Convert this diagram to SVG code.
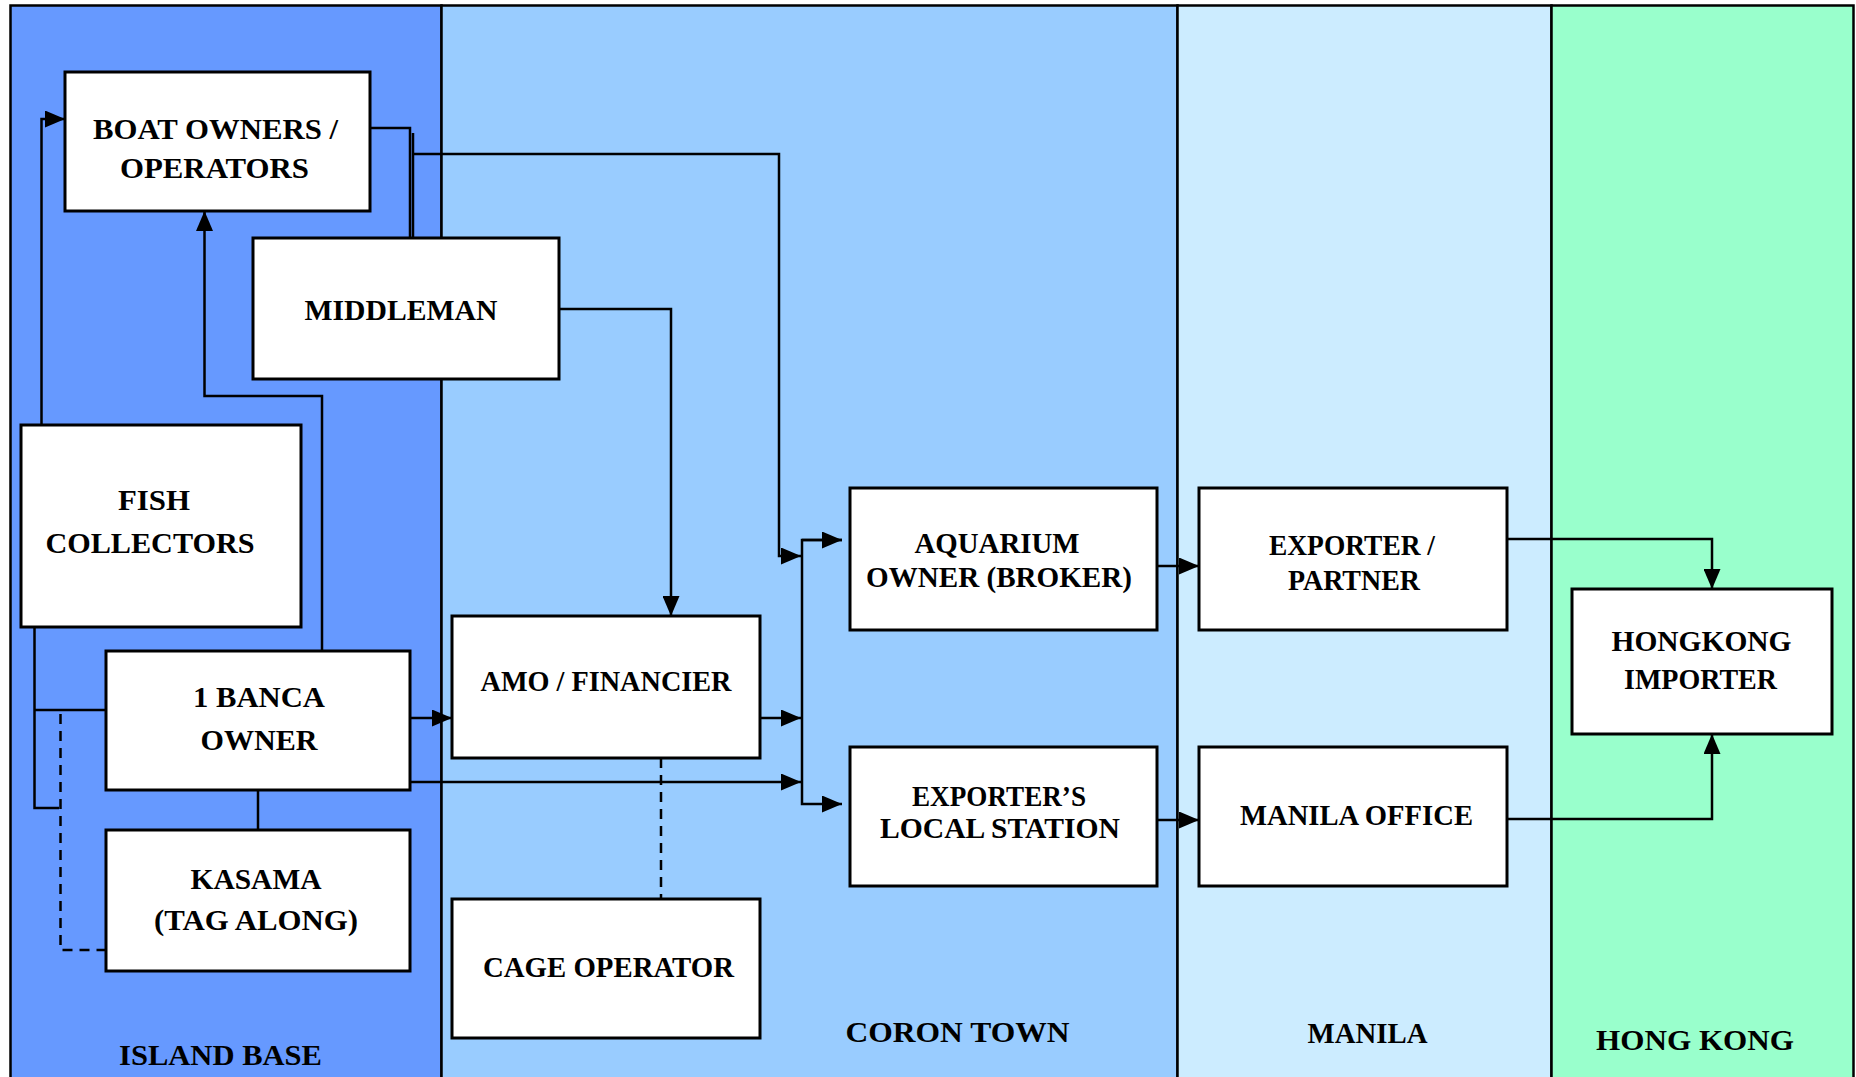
<svg xmlns="http://www.w3.org/2000/svg" width="1856" height="1077" viewBox="0 0 1856 1077">
<style>
.col{stroke:#000;stroke-width:2.5}
.box{fill:#fff;stroke:#000;stroke-width:3}
.t{font-family:"Liberation Serif","Times New Roman",serif;font-weight:bold;font-size:30px;fill:#000;text-anchor:middle}
.c{fill:none;stroke:#000;stroke-width:2.5}
.d{fill:none;stroke:#000;stroke-width:2.5;stroke-dasharray:10 7}
</style>
<defs>
<marker id="ah" markerUnits="userSpaceOnUse" markerWidth="20" markerHeight="17" refX="20" refY="8.5" orient="auto" viewBox="0 0 20 17">
<path d="M0,0 L20,8.5 L0,17 z" fill="#000"/>
</marker>
</defs>
<rect width="1856" height="1077" fill="#fff"/>
<g id="columns">
<rect class="col" x="10.5" y="5.5" width="431" height="1080" fill="#6699FF"/>
<rect class="col" x="441.5" y="5.5" width="736" height="1080" fill="#99CCFF"/>
<rect class="col" x="1177.5" y="5.5" width="374" height="1080" fill="#CCECFF"/>
<rect class="col" x="1551.5" y="5.5" width="302" height="1080" fill="#99FFCC"/>
<text class="t" x="220.5" y="1065" textLength="203" lengthAdjust="spacingAndGlyphs">ISLAND BASE</text>
<text class="t" x="957.5" y="1042" textLength="224" lengthAdjust="spacingAndGlyphs">CORON TOWN</text>
<text class="t" x="1367.5" y="1043" textLength="120" lengthAdjust="spacingAndGlyphs">MANILA</text>
<text class="t" x="1695" y="1050" textLength="198" lengthAdjust="spacingAndGlyphs">HONG KONG</text>
</g>
<g id="connectors">
<path class="c" d="M368,128 H410 V237"/>
<path class="c" d="M413,133 V237"/>
<path class="c" d="M413,154 H779 V556 H801" marker-end="url(#ah)"/>
<path class="c" d="M559,309 H671 V616" marker-end="url(#ah)"/>
<path class="c" d="M41.5,425 V119 H65" marker-end="url(#ah)"/>
<path class="c" d="M322,651 V396 H204.5 V211" marker-end="url(#ah)"/>
<path class="c" d="M34.5,627 V808 H59"/>
<path class="c" d="M34.5,710 H106"/>
<path class="d" d="M60.5,714 V950 H106"/>
<path class="c" d="M258,790 V830"/>
<path class="c" d="M403,718 H452" marker-end="url(#ah)"/>
<path class="c" d="M410,782 H801" marker-end="url(#ah)"/>
<path class="c" d="M754,718 H801" marker-end="url(#ah)"/>
<path class="c" d="M842,540 H802 V804 H842" marker-end="url(#ah)"/>
<path class="c" d="M802,540 H842" marker-end="url(#ah)"/>
<path class="c" d="M1151,566 H1199" marker-end="url(#ah)"/>
<path class="c" d="M1151,820 H1199" marker-end="url(#ah)"/>
<path class="c" d="M1500,539 H1712 V589" marker-end="url(#ah)"/>
<path class="c" d="M1500,819 H1712 V734" marker-end="url(#ah)"/>
<path class="d" d="M661,758 V899"/>
</g>
<g id="boat-owners">
<rect class="box" x="65" y="72" width="305" height="139"/>
<text class="t" x="215.5" y="139" textLength="245" lengthAdjust="spacingAndGlyphs">BOAT OWNERS /</text>
<text class="t" x="214.5" y="178" textLength="189" lengthAdjust="spacingAndGlyphs">OPERATORS</text>
</g>
<g id="middleman">
<rect class="box" x="253" y="238" width="306" height="141"/>
<text class="t" x="401" y="320" textLength="193" lengthAdjust="spacingAndGlyphs">MIDDLEMAN</text>
</g>
<g id="fish-collectors">
<rect class="box" x="21" y="425" width="280" height="202"/>
<text class="t" x="154" y="510" textLength="72" lengthAdjust="spacingAndGlyphs">FISH</text>
<text class="t" x="150" y="553" textLength="209" lengthAdjust="spacingAndGlyphs">COLLECTORS</text>
</g>
<g id="banca-owner">
<rect class="box" x="106" y="651" width="304" height="139"/>
<text class="t" x="259" y="707" textLength="132" lengthAdjust="spacingAndGlyphs">1 BANCA</text>
<text class="t" x="259" y="750" textLength="117" lengthAdjust="spacingAndGlyphs">OWNER</text>
</g>
<g id="kasama">
<rect class="box" x="106" y="830" width="304" height="141"/>
<text class="t" x="256" y="889" textLength="131" lengthAdjust="spacingAndGlyphs">KASAMA</text>
<text class="t" x="256" y="930" textLength="204" lengthAdjust="spacingAndGlyphs">(TAG ALONG)</text>
</g>
<g id="amo-financier">
<rect class="box" x="452" y="616" width="308" height="142"/>
<text class="t" x="606" y="691" textLength="251" lengthAdjust="spacingAndGlyphs">AMO / FINANCIER</text>
</g>
<g id="cage-operator">
<rect class="box" x="452" y="899" width="308" height="139"/>
<text class="t" x="608.5" y="977" textLength="251" lengthAdjust="spacingAndGlyphs">CAGE OPERATOR</text>
</g>
<g id="aquarium-owner">
<rect class="box" x="850" y="488" width="307" height="142"/>
<text class="t" x="997" y="553" textLength="165" lengthAdjust="spacingAndGlyphs">AQUARIUM</text>
<text class="t" x="999" y="587" textLength="266" lengthAdjust="spacingAndGlyphs">OWNER (BROKER)</text>
</g>
<g id="exporters-local-station">
<rect class="box" x="850" y="747" width="307" height="139"/>
<text class="t" x="999" y="806" textLength="174" lengthAdjust="spacingAndGlyphs">EXPORTER’S</text>
<text class="t" x="1000" y="838" textLength="240" lengthAdjust="spacingAndGlyphs">LOCAL STATION</text>
</g>
<g id="exporter-partner">
<rect class="box" x="1199" y="488" width="308" height="142"/>
<text class="t" x="1352" y="555" textLength="166" lengthAdjust="spacingAndGlyphs">EXPORTER /</text>
<text class="t" x="1354" y="590" textLength="132" lengthAdjust="spacingAndGlyphs">PARTNER</text>
</g>
<g id="manila-office">
<rect class="box" x="1199" y="747" width="308" height="139"/>
<text class="t" x="1356.5" y="825" textLength="233" lengthAdjust="spacingAndGlyphs">MANILA OFFICE</text>
</g>
<g id="hongkong-importer">
<rect class="box" x="1572" y="589" width="260" height="145"/>
<text class="t" x="1701.5" y="651" textLength="180" lengthAdjust="spacingAndGlyphs">HONGKONG</text>
<text class="t" x="1700.5" y="689" textLength="153" lengthAdjust="spacingAndGlyphs">IMPORTER</text>
</g>
</svg>
